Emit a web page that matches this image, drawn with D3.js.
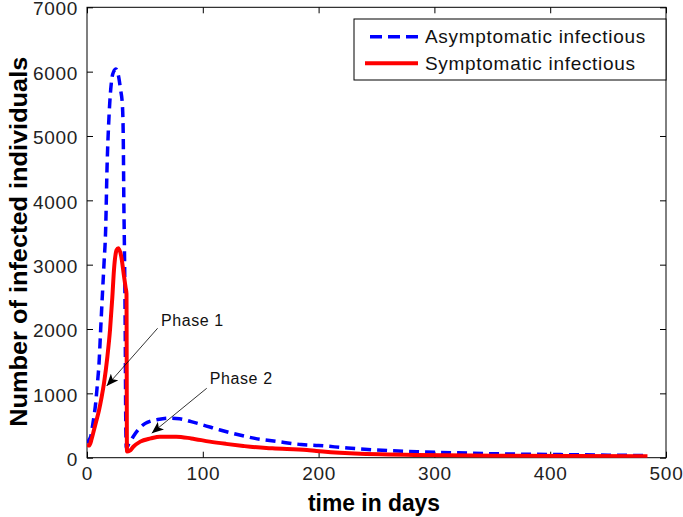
<!DOCTYPE html>
<html>
<head>
<meta charset="utf-8">
<script src="https://cdn.jsdelivr.net/npm/d3@7"></script>
<style>
  html, body { margin: 0; padding: 0; background: #fff; }
  svg { display: block; }
  text { font-family: Arial, "Liberation Sans", Helvetica, sans-serif; }
</style>
</head>
<body>
<svg id="chart" width="683" height="517"></svg>
<script>
// ---------- data ----------
const asymDays = [0, 1.5, 3.2, 5, 7.5, 9, 10.4, 11.8, 13.2, 14.7, 16.1, 17.3, 19, 21.3, 23, 25, 27, 29, 30.5, 31.3, 31.8, 32.3, 33, 33.5, 34, 36, 40, 45, 50, 55, 60, 70, 80, 90, 100, 115, 130, 145, 165, 185, 200, 225, 250, 285, 320, 350, 400, 450, 484];
const asymValues = [230, 270, 330, 520, 850, 1150, 1470, 1990, 2500, 3020, 3540, 4500, 5300, 5870, 6000, 6040, 5950, 5720, 5500, 5000, 4000, 3300, 2000, 500, 150, 210, 330, 450, 530, 570, 590, 615, 605, 560, 510, 430, 360, 300, 250, 205, 190, 150, 120, 93, 75, 62, 50, 40, 32];

const symDays = [0, 2, 4, 6, 8, 10.4, 12.5, 14.7, 17.6, 19.9, 21.9, 23.3, 25.6, 27, 29.6, 32, 33.3, 34.1, 34.5, 37, 40, 46, 55, 63, 77, 90, 106, 120, 135, 141, 160, 190, 198, 227, 285, 350, 420, 484];
const symValues = [200, 190, 290, 430, 570, 740, 930, 1160, 1570, 1990, 2500, 2920, 3230, 3256, 3126, 2815, 2650, 2550, 95, 110, 170, 250, 300, 327, 327, 300, 250, 215, 182, 170, 145, 120, 104, 68, 42, 32, 25, 22];

const xTicks = [0, 100, 200, 300, 400, 500];
const yTicks = [0, 1000, 2000, 3000, 4000, 5000, 6000, 7000];

const seriesNames = ["Asymptomatic infectious", "Symptomatic infectious"];
const seriesColors = ["#0000ff", "#ff0000"];

const xLabel = "time in days";
const yLabel = "Number of infected individuals";

// annotations
const annotLabels = ["Phase 1", "Phase 2"];
const annotText = [[63.8, 2050], [106, 1138]];
const annotTail = [[61, 2012], [103.4, 1079]];
const annotTip = [[17, 1115], [55.9, 380]];

// ---------- layout ----------
const svg = d3.select("#chart");
const mLeft = 87, mRight = 666, mTop = 7.3, mBottom = 457.7;

const x = d3.scaleLinear().domain([0, 500]).range([mLeft, mRight]);
const y = d3.scaleLinear().domain([0, 7000]).range([mBottom, mTop]);

const fontMain = 19;
const tickLen = 6;

// box
svg.append("rect")
  .attr("x", mLeft).attr("y", mTop)
  .attr("width", mRight - mLeft).attr("height", mBottom - mTop)
  .attr("fill", "none").attr("stroke", "#000").attr("stroke-width", 1);

const axB = d3.axisBottom(x).tickValues(xTicks).tickSize(-tickLen).tickPadding(9).tickFormat(d3.format("d"));
const axT = d3.axisTop(x).tickValues(xTicks).tickSize(-tickLen).tickFormat("");
const axL = d3.axisLeft(y).tickValues(yTicks).tickSize(-tickLen).tickPadding(9).tickFormat(d3.format("d"));
const axR = d3.axisRight(y).tickValues(yTicks).tickSize(-tickLen).tickFormat("");

function styleAxis(g) {
  g.select(".domain").remove();
  g.selectAll(".tick line").attr("stroke", "#000");
  g.selectAll(".tick text")
    .attr("fill", "#222")
    .style("font-size", fontMain + "px")
    .style("letter-spacing", "0.7px");
}

svg.append("g").attr("transform", `translate(0,${mBottom})`).call(axB).call(styleAxis);
svg.append("g").attr("transform", `translate(0,${mTop})`).call(axT).call(styleAxis);
svg.append("g").attr("transform", `translate(${mLeft},0)`).call(axL).call(styleAxis)
  .selectAll(".tick text").attr("y", 1.6);
svg.append("g").attr("transform", `translate(${mRight},0)`).call(axR).call(styleAxis);

svg.append("clipPath").attr("id", "plotclip")
  .append("rect").attr("x", mLeft).attr("y", mTop).attr("width", mRight - mLeft).attr("height", mBottom - mTop);

const line = d3.line().curve(d3.curveMonotoneX).x(d => x(d[0])).y(d => y(d[1]));

const asym = asymDays.map((d, i) => [d, asymValues[i]]);
const sym = symDays.map((d, i) => [d, symValues[i]]);

const plot = svg.append("g").attr("clip-path", "url(#plotclip)");
plot.append("path").datum(asym)
  .attr("d", line).attr("fill", "none")
  .attr("stroke", seriesColors[0]).attr("stroke-width", 3.5)
  .attr("stroke-dasharray", "10,6");
plot.append("path").datum(sym)
  .attr("d", line).attr("fill", "none")
  .attr("stroke", seriesColors[1]).attr("stroke-width", 4)
  .attr("stroke-linejoin", "round");

// annotations
const defs = svg.append("defs");
defs.append("marker").attr("id", "arrowhead")
  .attr("viewBox", "0 0 12 10").attr("refX", 12).attr("refY", 5)
  .attr("markerWidth", 12).attr("markerHeight", 10)
  .attr("markerUnits", "userSpaceOnUse")
  .attr("orient", "auto")
  .append("path").attr("d", "M0,0 L12,5 L0,10 L3,5 Z").attr("fill", "#000");

annotLabels.forEach((lab, i) => {
  svg.append("line")
    .attr("x1", x(annotTail[i][0])).attr("y1", y(annotTail[i][1]))
    .attr("x2", x(annotTip[i][0])).attr("y2", y(annotTip[i][1]))
    .attr("stroke", "#000").attr("stroke-width", 0.8)
    .attr("marker-end", "url(#arrowhead)");
  svg.append("text")
    .attr("x", x(annotText[i][0])).attr("y", y(annotText[i][1]))
    .attr("fill", "#111")
    .style("font-size", "16px").style("letter-spacing", "0.6px")
    .text(lab);
});

// axis labels
svg.append("text")
  .attr("x", (mLeft + mRight) / 2 - 2.5).attr("y", 511)
  .attr("text-anchor", "middle")
  .attr("textLength", 132).attr("lengthAdjust", "spacingAndGlyphs")
  .style("font-size", "23px").style("font-weight", "bold")
  .attr("fill", "#000")
  .text(xLabel);

svg.append("text")
  .attr("transform", `translate(27,241.7) rotate(-90)`)
  .attr("text-anchor", "middle")
  .attr("textLength", 370).attr("lengthAdjust", "spacingAndGlyphs")
  .style("font-size", "23px").style("font-weight", "bold")
  .attr("fill", "#000")
  .text(yLabel);

// legend
const lg = svg.append("g");
lg.append("rect").attr("x", 354).attr("y", 19).attr("width", mRight - 354).attr("height", 61)
  .attr("fill", "#fff").attr("stroke", "#000").attr("stroke-width", 1);
const legY = [36.7, 63.3];
lg.append("line").attr("x1", 370).attr("x2", 418).attr("y1", legY[0]).attr("y2", legY[0])
  .attr("stroke", seriesColors[0]).attr("stroke-width", 3.5).attr("stroke-dasharray", "12,6");
lg.append("line").attr("x1", 365).attr("x2", 418).attr("y1", legY[1]).attr("y2", legY[1])
  .attr("stroke", seriesColors[1]).attr("stroke-width", 4);
seriesNames.forEach((n, i) => {
  lg.append("text").attr("x", 425).attr("y", legY[i]).attr("dy", "0.35em")
    .attr("fill", "#111")
    .style("font-size", fontMain + "px").style("letter-spacing", "0.7px")
    .text(n);
});
</script>
</body>
</html>
